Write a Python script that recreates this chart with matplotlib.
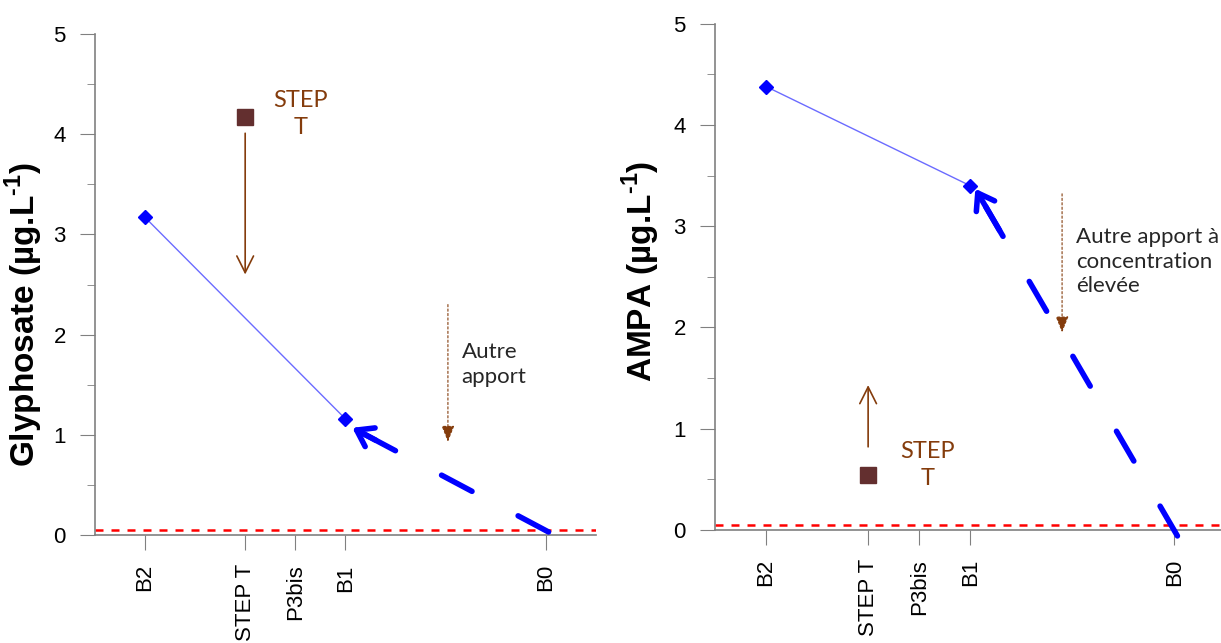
import matplotlib.pyplot as plt

# positions des stations le long du cours d'eau
sites = ["B2", "STEP T", "P3bis", "B1", "B0"]
site_x = [1, 3, 4, 5, 9]

# concentrations mesurées (µg/L)
riviere_x = [1, 5]
glyphosate = [3.17, 1.16]
ampa = [4.38, 3.40]
step_x = 3
glyphosate_step = 4.17
ampa_step = 0.54
limite_quantif = 0.05

# flèches d'interprétation (début, fin)
glyph_flux = [(9.06, 0.03), (5.14, 1.07)]
ampa_flux = [(9.06, -0.06), (5.1, 3.37)]
glyph_step_fleche = [(3, 4.01), (3, 2.6)]
ampa_step_fleche = [(3, 0.82), (3, 1.43)]
glyph_apport = [(7.05, 2.3), (7.05, 0.93)]
ampa_apport = [(6.8, 3.32), (6.8, 1.95)]

BRUN = "#843c0c"
GRIS = "#808080"
plt.rcParams["font.family"] = ["Liberation Sans", "DejaVu Sans"]
plt.rcParams["mathtext.fontset"] = "custom"
plt.rcParams["mathtext.rm"] = "Liberation Sans:bold"


def tracer_panneau(ax, valeurs, val_step, ylabel, label_y, flux, step_fleche, apport,
                   txt_step_pos, txt_apport, txt_apport_pos):
    ax.set_xlim(0, 10)
    ax.set_ylim(0, 5)

    ax.axhline(limite_quantif, color="red", lw=1.8, ls=(0, (3.2, 3.2)), zorder=1)

    ax.plot(riviere_x, valeurs, color="#6b6bff", lw=1, marker="D",
            markersize=7, markerfacecolor="blue", markeredgecolor="blue", zorder=3)
    ax.plot([step_x], [val_step], marker="s", markersize=11, color="#632f2f",
            linestyle="none", zorder=3)

    # flux amont : trait épais en tirets + pointe
    (x0, y0), (x1, y1) = flux
    ax.plot([x0, x1], [y0, y1], color="blue", lw=4, ls=(0, (6.2, 9.4)),
            dash_capstyle="round", clip_on=False, zorder=4)
    ax.annotate("", xy=(x1, y1), xytext=(x1 + 0.12 * (x0 - x1), y1 + 0.12 * (y0 - y1)),
                arrowprops=dict(arrowstyle="->,head_length=0.55,head_width=0.38",
                                lw=4, color="blue", capstyle="round", joinstyle="round",
                                mutation_scale=20, shrinkA=0, shrinkB=0), zorder=4)

    ax.annotate("", xy=step_fleche[1], xytext=step_fleche[0],
                arrowprops=dict(arrowstyle="->,head_length=0.6,head_width=0.3",
                                lw=1.2, color=BRUN, mutation_scale=20,
                                shrinkA=0, shrinkB=0))
    ax.annotate("", xy=apport[1], xytext=apport[0],
                arrowprops=dict(arrowstyle="-|>,head_length=0.5,head_width=0.2",
                                lw=0.8, color=BRUN, linestyle=(0, (2, 2)),
                                mutation_scale=20, shrinkA=0, shrinkB=0))

    ax.text(*txt_step_pos, "STEP\nT", color=BRUN, ha="center", va="center",
            fontsize=17, family="Lato", linespacing=1.35)
    ax.text(*txt_apport_pos, txt_apport, color="#262626", ha="left", va="center",
            fontsize=16, family="Lato", linespacing=1.3)

    ax.set_yticks([0, 1, 2, 3, 4, 5])
    ax.set_yticks([0.5, 1.5, 2.5, 3.5, 4.5], minor=True)
    ax.set_xticks(site_x)
    ax.set_xticklabels(sites, rotation=90, fontsize=16)
    ax.tick_params(axis="y", labelsize=16, length=11, color=GRIS, pad=10)
    ax.tick_params(axis="y", which="minor", length=6, color=GRIS)
    ax.tick_params(axis="x", length=11, color=GRIS, pad=10)
    for cote in ["top", "right"]:
        ax.spines[cote].set_visible(False)
    for cote in ["left", "bottom"]:
        ax.spines[cote].set_color(GRIS)
        ax.spines[cote].set_linewidth(1.2)
    ax.set_ylabel(ylabel, fontsize=24, fontweight="bold")
    ax.yaxis.set_label_coords(*label_y)


fig = plt.figure(figsize=(12.21, 6.43), dpi=100)
ax1 = fig.add_axes([0.0778, 0.168, 0.410, 0.779])
ax2 = fig.add_axes([0.5856, 0.176, 0.418, 0.787])

tracer_panneau(ax1, glyphosate, glyphosate_step, r"Glyphosate (µg.L$^{\text{-1}}$)",
               (-0.10, 0.44), glyph_flux, glyph_step_fleche, glyph_apport,
               (4.1, 4.2), "Autre\napport", (7.32, 1.7))
tracer_panneau(ax2, ampa, ampa_step, r"AMPA (µg.L$^{\text{-1}}$)",
               (-0.103, 0.51), ampa_flux, ampa_step_fleche, ampa_apport,
               (4.16, 0.64), "Autre apport à\nconcentration\nélevée", (7.08, 2.65))

fig.savefig("out.png", dpi=100)
